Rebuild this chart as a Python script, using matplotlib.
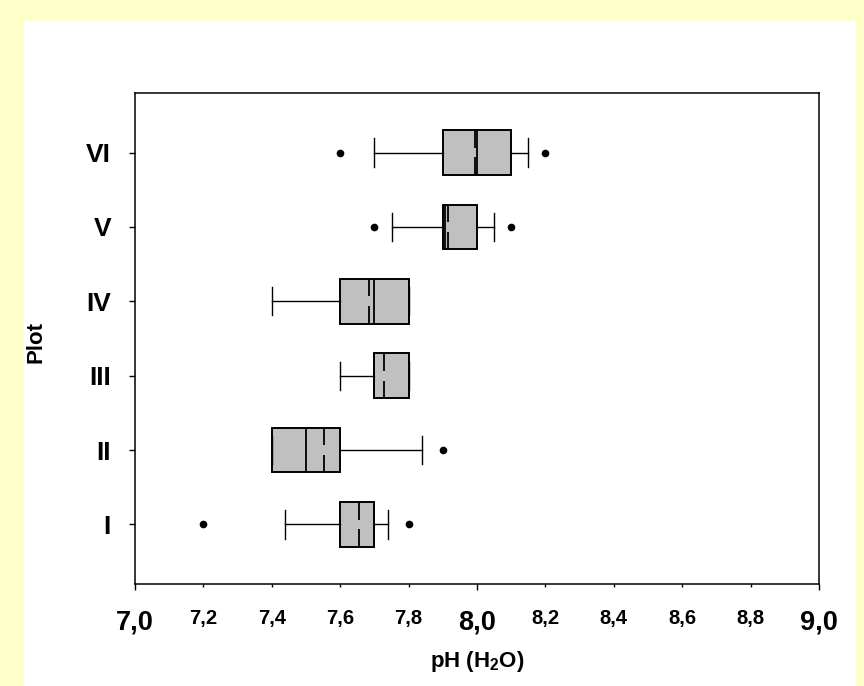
import matplotlib
matplotlib.use("Agg")
import matplotlib.pyplot as plt
from matplotlib.patches import Rectangle
from matplotlib.ticker import FixedLocator

plt.rcParams["font.family"] = ["Liberation Sans", "DejaVu Sans"]
plt.rcParams["font.weight"] = "bold"
plt.rcParams["mathtext.fontset"] = "custom"
plt.rcParams["mathtext.rm"] = "Liberation Sans:bold"
plt.rcParams["mathtext.bf"] = "Liberation Sans:bold"

# values (pH per plot)
PLOTS = ["I", "II", "III", "IV", "V", "VI"]
Q1 = [7.60, 7.40, 7.70, 7.60, 7.90, 7.90]
Q3 = [7.70, 7.60, 7.80, 7.80, 8.00, 8.10]
MEDIAN = [7.70, 7.50, 7.70, 7.70, 7.905, 8.00]
MEAN = [7.655, 7.553, 7.727, 7.685, 7.915, 7.993]
WHIS_LO = [7.44, 7.40, 7.60, 7.40, 7.75, 7.70]
WHIS_HI = [7.74, 7.84, 7.80, 7.80, 8.05, 8.15]
OUTLIERS = [[7.2, 7.8], [7.9], [], [], [7.7, 8.1], [7.6, 8.2]]

MAJOR = [7.0, 8.0, 9.0]
MINOR = [7.2, 7.4, 7.6, 7.8, 8.2, 8.4, 8.6, 8.8]


def fmt(v):
    return f"{v:.1f}".replace(".", ",")


def main():
    W, H = 864, 686
    fig = plt.figure(figsize=(W / 100, H / 100), dpi=100)
    fig.patch.set_facecolor("#FFFFCC")
    fig.patches.append(Rectangle((24 / W, 0), (856 - 24) / W, (H - 21) / H,
                                 transform=fig.transFigure, fc="white", ec="none", zorder=-10))

    ax = fig.add_axes([135 / W, 1 - 584 / H, (819 - 135) / W, (584 - 93) / H])

    stats = []
    for i, name in enumerate(PLOTS):
        stats.append(dict(label=name, med=MEDIAN[i], q1=Q1[i], q3=Q3[i],
                          whislo=WHIS_LO[i], whishi=WHIS_HI[i],
                          fliers=OUTLIERS[i], mean=MEAN[i]))
    pos = list(range(1, len(PLOTS) + 1))
    width = 0.6
    ax.bxp(stats, positions=pos, widths=width, vert=False, patch_artist=True,
           showmeans=False, capwidths=0.38,
           boxprops=dict(facecolor="#C0C0C0", edgecolor="black", linewidth=1.4),
           medianprops=dict(color="black", linewidth=1.3),
           whiskerprops=dict(color="black", linewidth=1.0),
           capprops=dict(color="black", linewidth=1.0),
           flierprops=dict(marker="o", markerfacecolor="black", markeredgecolor="black",
                           markersize=4.5))

    # mean drawn as a line broken in the middle
    gap = 0.13
    for p, m in zip(pos, MEAN):
        ax.vlines(m, p - width / 2, p - gap / 2, color="black", lw=1.3, zorder=4)
        ax.vlines(m, p + gap / 2, p + width / 2, color="black", lw=1.3, zorder=4)

    ax.set_xlim(7.0, 9.0)
    ax.set_ylim(0.2, 6.8)
    for s in ax.spines.values():
        s.set_linewidth(1.1)

    ax.xaxis.set_major_locator(FixedLocator(MAJOR))
    ax.xaxis.set_minor_locator(FixedLocator(MINOR))
    ax.set_xticklabels([fmt(v) for v in MAJOR], fontsize=19.5, fontweight="bold")
    ax.set_xticklabels([fmt(v) for v in MINOR], minor=True, fontsize=14.5, fontweight="bold")
    ax.tick_params(axis="x", which="major", direction="out", length=4.3, width=1.0, pad=14)
    ax.tick_params(axis="x", which="minor", direction="out", length=2.3, width=1.0, pad=16)

    ax.set_yticks(pos)
    ax.set_yticklabels(PLOTS, fontsize=19, fontweight="bold")
    ax.tick_params(axis="y", direction="out", length=4.3, width=1.0, pad=13)

    ax.set_xlabel("pH (H$_\\mathbf{2}$O)", fontsize=16, fontweight="bold")
    ax.xaxis.set_label_coords(0.5, -0.133)
    ax.set_ylabel("Plot", fontsize=16, fontweight="bold")
    ax.yaxis.set_label_coords(-0.13, 0.492)

    fig.savefig("out.png", dpi=100, facecolor=fig.get_facecolor())


if __name__ == "__main__":
    main()
